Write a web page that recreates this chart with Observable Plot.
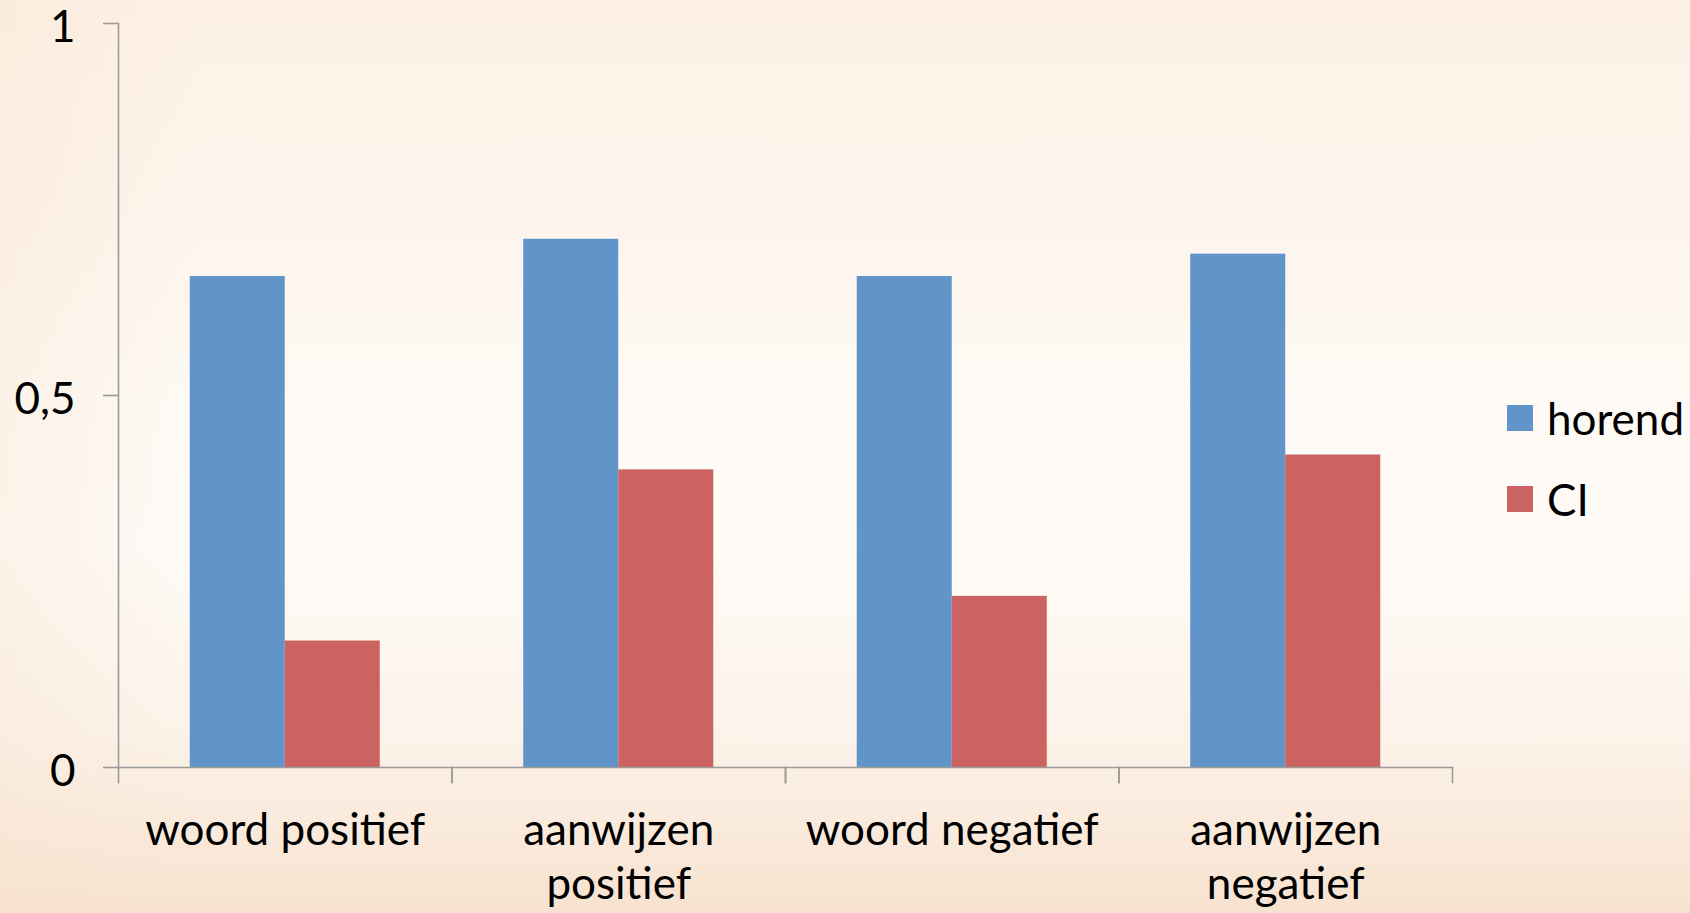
<!DOCTYPE html>
<html>
<head>
<meta charset="utf-8">
<script src="https://cdn.jsdelivr.net/npm/d3@7"></script>
<script src="https://cdn.jsdelivr.net/npm/@observablehq/plot@0.6"></script>
<style>
  html, body { margin: 0; padding: 0; overflow: hidden; }
  body {
    width: 1690px; height: 913px; position: relative;
    font-family: Lato, "Open Sans", sans-serif;
    background:
      linear-gradient(90deg, rgba(247,226,206,0.35) 0%, rgba(255,255,255,0) 12%),
      linear-gradient(180deg, #fdf1e5 0%, #fdf5ed 25%, #fefaf5 45%, #fefbf7 60%, #fcf3ea 80%, #f7e2cf 100%);
  }
  #chart { position: absolute; left: 0; top: 0; }
  #legend { position: absolute; left: 1507px; top: 394px; font-size: 44px; color: #000; }
  .item { display: flex; align-items: center; height: 48px; margin-bottom: 33px; white-space: nowrap; }
  .sw { width: 26px; height: 26px; margin-right: 14px; flex: none; }
</style>
</head>
<body>
<div id="chart"></div>
<div id="legend"></div>
<script>
const categories = ["woord positief", "aanwijzen positief", "woord negatief", "aanwijzen negatief"];
const tickLabels = ["woord positief", "aanwijzen\npositief", "woord negatief", "aanwijzen\nnegatief"];
const seriesNames = ["horend", "CI"];
const horend = [0.66, 0.71, 0.66, 0.69];
const ci = [0.17, 0.40, 0.23, 0.42];
const yTicks = [0, 0.5, 1];
const seriesColors = ["#6194c8", "#cb6460"];

const data = categories.flatMap((c, i) => [
  {category: c, series: seriesNames[0], value: horend[i]},
  {category: c, series: seriesNames[1], value: ci[i]}
]);

const axisColor = "#9b9b9b";
const W = 1690, H = 913, mT = 23, mB = 146;

const chart = Plot.plot({
  width: W, height: H,
  marginLeft: 118, marginRight: 238, marginTop: mT, marginBottom: mB,
  style: {background: "transparent", fontFamily: "Lato, 'Open Sans', sans-serif", fontSize: "44px", color: "#000", overflow: "visible"},
  fx: {domain: categories, padding: 0, round: false, label: null},
  x: {domain: seriesNames, paddingInner: 0, paddingOuter: 0.755, round: false, axis: null},
  y: {domain: [0, 1], label: null},
  color: {domain: seriesNames, range: seriesColors},
  marks: [
    Plot.barY(data, {fx: "category", x: "series", y: "value", fill: "series"}),
    Plot.ruleY([0], {stroke: axisColor, strokeWidth: 1.6}),
    Plot.frame({anchor: "left", facetAnchor: "left", stroke: axisColor, strokeWidth: 1.6}),
    Plot.frame({anchor: "left", insetTop: H - mT - mB, insetBottom: -15, stroke: axisColor, strokeWidth: 1.6}),
    Plot.frame({anchor: "right", insetTop: H - mT - mB, insetBottom: -15, stroke: axisColor, strokeWidth: 1.6}),
    Plot.axisY({ticks: yTicks, tickSize: 15, label: null, stroke: axisColor, strokeWidth: 1.6, tickFormat: () => ""}),
    Plot.axisY({ticks: yTicks, tickSize: 0, tickPadding: 43, label: null,
      tickFormat: d => String(d).replace(".", ","), fontSize: 44, fill: "#000", dy: 4}),
    Plot.axisFx({anchor: "bottom", tickSize: 0, tickPadding: 39, label: null, lineHeight: 1.23, fontSize: 44, fill: "#000",
      tickFormat: d => tickLabels[categories.indexOf(d)]})
  ]
});
document.getElementById("chart").appendChild(chart);

const legend = document.getElementById("legend");
seriesNames.forEach((s, i) => {
  const item = document.createElement("div");
  item.className = "item";
  const sw = document.createElement("span");
  sw.className = "sw";
  sw.style.background = seriesColors[i];
  const t = document.createElement("span");
  t.textContent = s;
  item.appendChild(sw);
  item.appendChild(t);
  legend.appendChild(item);
});
</script>
</body>
</html>
